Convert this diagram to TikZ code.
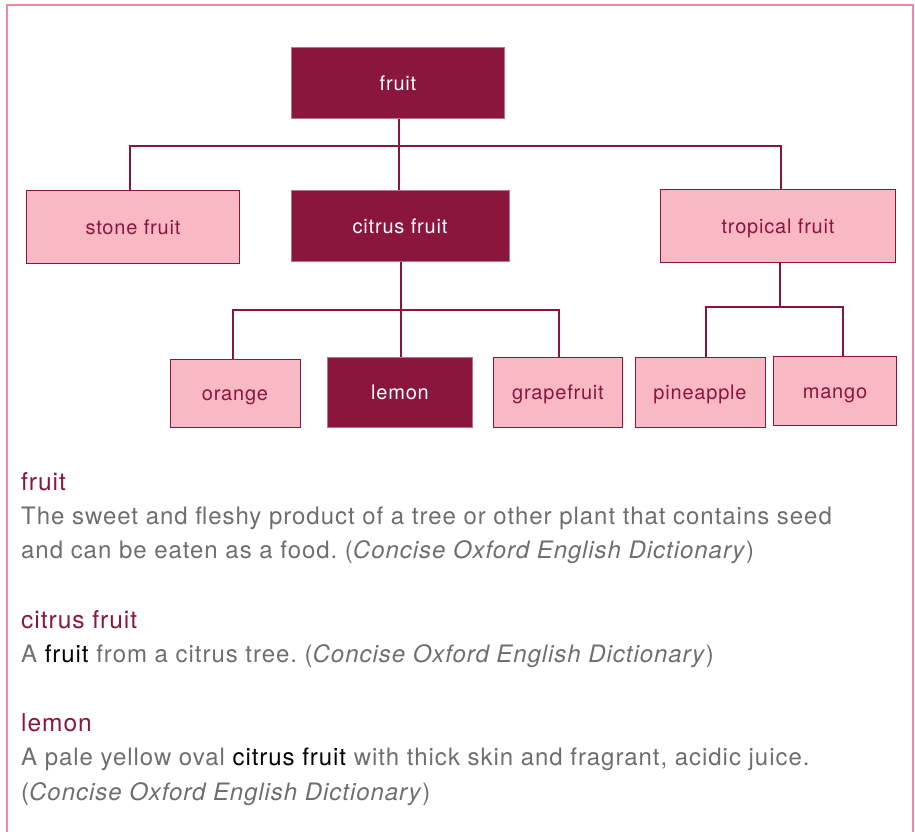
\documentclass[tikz,border=0pt]{standalone}
\usepackage{fontspec}
\setmainfont{TeX Gyre Heros}[LetterSpace=4]
\frenchspacing
\definecolor{maroon}{HTML}{8A153D}
\definecolor{lightpink}{HTML}{F8B8C4}
\definecolor{framepink}{HTML}{F2879F}
\definecolor{greytext}{HTML}{6E6E6E}
\begin{document}
\begin{tikzpicture}[x=1pt,y=-1pt,
  darkbox/.style={rectangle,fill=maroon,draw=maroon!60!white,line width=0.8pt,text=white,inner sep=0pt,text height=15.5pt,text depth=0pt,font=\fontsize{20}{24}\selectfont},
  lightbox/.style={rectangle,fill=lightpink,draw=maroon,line width=1pt,text=maroon,inner sep=0pt,text height=15.5pt,text depth=0pt,font=\fontsize{20}{24}\selectfont},
  conn/.style={draw=maroon,line width=1.6pt},
  head/.style={anchor=base west,inner sep=0pt,text=maroon,font=\fontsize{24.5}{30}\selectfont},
  body/.style={anchor=base west,inner sep=0pt,text=greytext,font=\fontsize{24}{30}\selectfont},
  frameline/.style={draw=framepink,line width=2.5pt}]
\useasboundingbox (0,0) rectangle (915,831);
% frame
\coordinate (ftl) at (7,5);
\coordinate (ftr) at (913,5);
\coordinate (fbl) at (7,840);
\coordinate (fbr) at (913,840);
\draw[frameline] (fbl) -- (ftl) -- (ftr) -- (fbr);
% boxes
\node[darkbox,minimum width=213pt,minimum height=71pt] (fruit) at (398,83) {fruit};
\node[lightbox,minimum width=213pt,minimum height=73pt] (stone) at (133,227) {stone fruit};
\node[darkbox,minimum width=218pt,minimum height=71pt] (citrus) at (400,226) {citrus fruit};
\node[lightbox,minimum width=235pt,minimum height=73pt] (tropical) at (778,226) {tropical fruit};
\node[lightbox,minimum width=130pt,minimum height=68pt] (orange) at (235,393) {orange};
\node[darkbox,minimum width=145pt,minimum height=70pt] (lemon) at (400,392) {lemon};
\node[lightbox,minimum width=129pt,minimum height=70pt] (grapefruit) at (558,392) {grapefruit};
\node[lightbox,minimum width=130pt,minimum height=70pt] (pineapple) at (700,392) {pineapple};
\node[lightbox,minimum width=123pt,minimum height=69pt] (mango) at (835,391) {mango};
% junctions
\coordinate (j1) at (399,146);
\coordinate (j2) at (401,310);
\coordinate (j3) at (780,307);
% connectors
\draw[conn] (fruit.south -| j1) -- (citrus.north -| j1);
\draw[conn] ([xshift=-3pt]stone.north) |- (j1) -| ([xshift=3pt]tropical.north);
\draw[conn] (citrus.south -| j2) -- (lemon.north -| j2);
\draw[conn] ([xshift=-2pt]orange.north) |- (j2) -| ([xshift=1pt]grapefruit.north);
\draw[conn] (tropical.south -| j3) -- (j3);
\draw[conn] ([xshift=6pt]pineapple.north) |- (j3) -| ([xshift=8pt]mango.north);
% definitions
\node[head] (h1) at (21,490) {fruit};
\node[body] (b1a) at (21,524) {The sweet and fleshy product of a tree or other plant that contains seed};
\node[body] (b1b) at (21,558) {and can be eaten as a food. (\textit{Concise Oxford English Dictionary})};
\node[head] (h2) at (21,628) {citrus fruit};
\node[body] (b2a) at (21,662) {A \textcolor{black}{fruit} from a citrus tree. (\textit{Concise Oxford English Dictionary})};
\node[head] (h3) at (21,731) {lemon};
\node[body] (b3a) at (21,765) {A pale yellow oval \textcolor{black}{citrus fruit} with thick skin and fragrant, acidic juice.};
\node[body] (b3b) at (21,800) {(\textit{Concise Oxford English Dictionary})};
\end{tikzpicture}
\end{document}
